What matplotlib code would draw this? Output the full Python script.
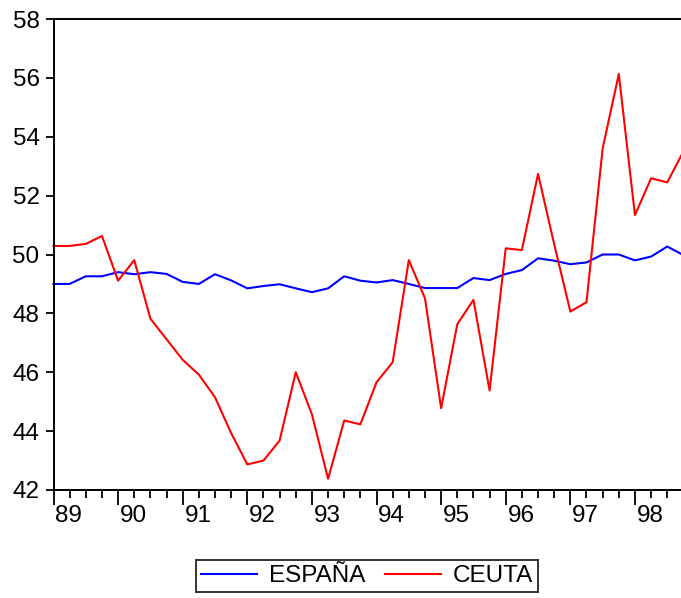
import matplotlib
matplotlib.use("Agg")
import matplotlib.pyplot as plt
import numpy as np

plt.rcParams['font.family'] = ['Liberation Sans', 'DejaVu Sans']

years = ['89', '90', '91', '92', '93', '94', '95', '96', '97', '98']

espana = [49.0, 49.0, 49.26, 49.26, 49.4, 49.33, 49.4, 49.34, 49.07, 49.0,
          49.33, 49.12, 48.85, 48.93, 48.99, 48.85, 48.72, 48.85, 49.26, 49.11,
          49.05, 49.13, 49.0, 48.86, 48.86, 48.86, 49.2, 49.13, 49.34, 49.47,
          49.87, 49.79, 49.67, 49.73, 50.0, 50.0, 49.8, 49.93, 50.27, 49.98]

ceuta = [50.29, 50.29, 50.36, 50.63, 49.11, 49.81, 47.82, 47.12, 46.42, 45.92,
         45.15, 43.93, 42.87, 43.0, 43.68, 46.0, 44.57, 42.38, 44.36, 44.23,
         45.66, 46.34, 49.81, 48.51, 44.78, 47.63, 48.46, 45.38, 50.21, 50.15,
         52.74, 50.35, 48.06, 48.38, 53.6, 56.13, 51.34, 52.59, 52.45, 53.5]

W, H = 681, 598
fig = plt.figure(figsize=(W / 100, H / 100), dpi=100)
left = 53.5 / W
right_px = 683.4
bottom = 1 - 490 / H
top = 1 - 19 / H
ax = fig.add_axes([left, bottom, (right_px - 53.5) / W, top - bottom])

q = np.arange(len(espana))
ax.plot(q, espana, color='#0000ff', lw=1.5, label='ESPAÑA', clip_on=False)
ax.plot(q, ceuta, color='#ff0000', lw=1.5, label='CEUTA', clip_on=False)

ax.set_xlim(0, len(espana) - 1)
ax.set_ylim(42, 58)
ax.set_yticks(np.arange(42, 59, 2))
ax.tick_params(axis='y', direction='out', length=6, width=1.3, labelsize=17.5, pad=4, colors='black')

major_pos = np.arange(0, len(espana), 4)
ax.set_xticks(major_pos)
ax.set_xticks(np.arange(0, len(espana)), minor=True)
ax.tick_params(axis='x', which='major', direction='out', length=11, width=1.3, labelbottom=False)
ax.tick_params(axis='x', which='minor', direction='out', length=6, width=1.3)

for i, yl in enumerate(years):
    ax.text(4 * i + 0.95, -0.032, yl, transform=ax.get_xaxis_transform(),
            ha='center', va='top', fontsize=17.5)

for s in ['left', 'bottom', 'top', 'right']:
    ax.spines[s].set_linewidth(1.4)
    ax.spines[s].set_color('black')

leg = fig.legend(loc='center', bbox_to_anchor=(367 / W, 1 - 576 / H), ncol=2,
                 fontsize=17.5, frameon=True, fancybox=False, edgecolor='black',
                 handlelength=2.3, handletextpad=0.5, columnspacing=0.8,
                 borderpad=0.2, borderaxespad=0)
leg.get_frame().set_linewidth(1.4)

fig.savefig('out.png', dpi=100)
